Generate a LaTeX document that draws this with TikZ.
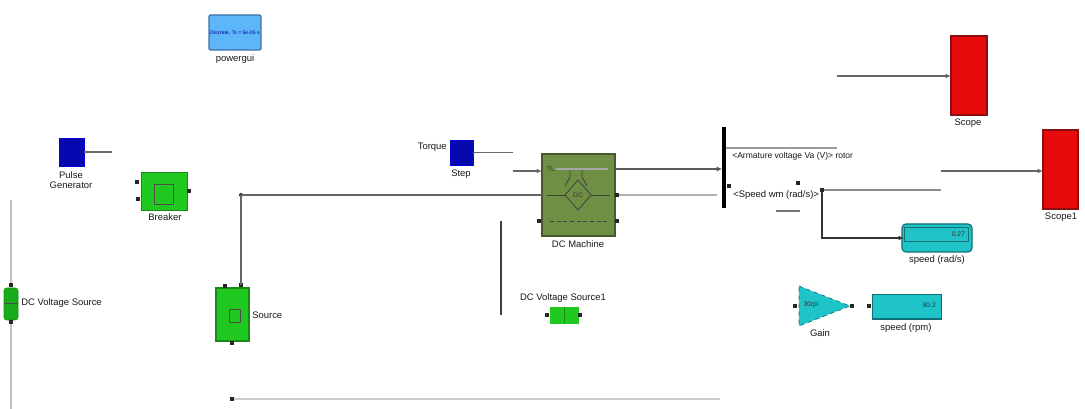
\documentclass[tikz,border=0pt]{standalone}
\usepackage{fontspec}
\setmainfont{Liberation Sans}
\usetikzlibrary{arrows.meta,calc}
\definecolor{gui}{HTML}{5CB6F8}
\definecolor{guid}{HTML}{3F6FA8}
\definecolor{navy}{HTML}{0808B0}
\definecolor{grn}{HTML}{1FC91F}
\definecolor{grnd}{HTML}{178A17}
\definecolor{olive}{HTML}{6F8F45}
\definecolor{olived}{HTML}{46592E}
\definecolor{rd}{HTML}{E80A0A}
\definecolor{rdd}{HTML}{8A1010}
\definecolor{cy}{HTML}{1FC4C8}
\definecolor{cyd}{HTML}{0F6F75}
\definecolor{wire}{HTML}{666666}
\tikzset{
 x=0.75pt,y=-0.75pt,
 lab/.style={font=\fontsize{7.1}{7.8}\selectfont,align=center,text=black!90,inner sep=0pt},
 small/.style={font=\fontsize{5}{6}\selectfont,text=black!80,inner sep=0pt},
 wr/.style={draw=wire,line width=0.9pt},
 tip/.style={-{Latex[length=4pt,width=3.5pt]}},
 port/.style={fill=black!85,draw=none,minimum size=3.5pt,inner sep=0pt,outer sep=0pt},
 pin/.style={port,minimum size=2.5pt},
 inner/.style={draw=black!70,line width=0.6pt},
 sym/.style={draw=black!75,line width=0.6pt},
}
\newcommand{\bx}[6]{% name, x0,y0,x1,y1, style
 \node[#6,inner sep=0pt,outer sep=0pt,minimum width={(#4-#2)*0.75pt},minimum height={(#5-#3)*0.75pt},anchor=north west] (#1) at (#2,#3) {};}
\begin{document}
\begin{tikzpicture}
\useasboundingbox (0,0) rectangle (1085,409);
% powergui
\bx{gui}{209}{15}{261}{50}{draw=guid,fill=gui,line width=0.9pt,rounded corners=1pt}
\node[font=\fontsize{3.8}{5}\selectfont,text=blue!60!black] (guit) at (235,33) {Discrete, Ts = 5e-05 s};
\node[lab] (guil) at (235,59) {powergui};
% pulse
\bx{pulse}{59}{138}{84}{166}{draw=blue!50!navy,fill=navy,line width=0.6pt}
\coordinate (pulsee) at (112,152);
\draw[wr] (pulse.east) -- (pulse.east -| pulsee);
\node[lab] (pulsel) at (71,180) {Pulse\\Generator};
% breaker
\bx{brk}{141}{172}{187}{210}{draw=grnd,fill=grn,line width=0.6pt}
\bx{brki}{154}{184}{173}{204}{inner}
\node[port] (brkp1) at (137,182) {};
\node[port] (brkp2) at (138,199) {};
\node[port] (brkp3) at (189,191) {};
\node[lab] (brkl) at (165,217) {Breaker};
% left source
\bx{dcs}{4}{288}{18}{320}{draw=grnd,fill=grn!85!black,line width=0.4pt,rounded corners=2pt}
\node[port] (dcst) at (11,285) {};
\node[port] (dcsb) at (11,322) {};
\coordinate (dcsa) at (11,200);
\coordinate (dcsz) at (11,409);
\draw[draw=black!25,line width=1pt] (dcsa) -- (dcst);
\draw[draw=black!25,line width=1pt] (dcsb) -- (dcsz);
\draw[inner] (4,303) -- (18,303);
\node[lab,anchor=west] (dcsl) at (21,303) {DC Voltage Source};
% source
\bx{src}{216}{288}{249}{341}{draw=grnd,fill=grn,line width=0.9pt}
\bx{srci}{229}{309}{240}{322}{inner}
\node[port] (srcp1) at (225,286) {};
\node[port] (srcp2) at (241,285) {};
\node[port] (srcp3) at (232,343) {};
\node[lab,anchor=west] (srcl) at (252,315) {Source};
\node[port,circle,minimum size=3pt] (jn) at (241,195) {};
% dc machine
\bx{dcm}{542}{154}{615}{236}{draw=olived,fill=olive,line width=0.9pt}
\draw[sym] (578,180) -- (591,195) -- (578,210) -- (565,195) -- cycle;
\draw[sym] (570,170) -- (570,177) -- (565,186) (582,170) -- (582,177) -- (587,186);
\draw[sym] (547,195) -- (565,195) (591,195) -- (610,195);
\draw[sym,dash pattern=on 3pt off 2pt] (550,221) -- (608,221);
\node[small] (dcmtl) at (551,169) {TL};
\node[small] (dcmm) at (578,195) {DC};
\node[lab] (dcml) at (578,244) {DC Machine};
\node[port] (dcmp1) at (539,221) {};
\node[port] (dcmp2) at (617,195) {};
\node[port] (dcmp3) at (617,221) {};
\draw[draw=black!35,line width=0.8pt] (556,169) -- (608,169);
% step
\bx{stp}{450}{140}{473}{165}{draw=blue!50!navy,fill=navy,line width=0.6pt}
\coordinate (stpe) at (513,152);
\draw[wr] (stp.east) -- (stp.east -| stpe);
\node[lab,anchor=east] (stpt) at (447,147) {Torque};
\node[lab] (stpl) at (461,174) {Step};
\coordinate (tla) at (513,171);
\coordinate (tlb) at (542,171);
\draw[wr,tip] (tla) -- (tlb);
% wires on y=195
\draw[wr] (jn.center) -- (542,195);
\draw[wr] (jn.center) -- (srcp2.center);
\coordinate (busw) at (717,195);
\draw[draw=black!30,line width=1pt] (dcmp2) -- (busw);
% dc source 1
\bx{dv}{550}{307}{578}{323}{draw=grn,fill=grn,line width=0.6pt}
\draw[draw=grnd,line width=0.6pt] (564,307) -- (564,323);
\node[port] (dvp1) at (547,315) {};
\node[port] (dvp2) at (580,315) {};
\node[lab] (dvl) at (563,298) {DC Voltage Source1};
\coordinate (vla) at (501,221);
\coordinate (vlb) at (501,315);
\draw[draw=black!75,line width=1.1pt] (vla) -- (vlb);
% bus
\bx{bus}{722}{127}{726}{208}{draw=none,fill=black}
\coordinate (busi) at (722,169);
\draw[draw=black!65,line width=2pt,-{Latex[length=4pt,width=4pt]}] (615,169) -- (busi);
\coordinate (o1) at (837,148);
\draw[draw=black!40,line width=0.8pt] (726,148) -- (o1);
\node[lab,anchor=west,font=\fontsize{6.4}{7}\selectfont] (t1) at (732,156) {<Armature voltage Va (V)> rotor};
\node[lab,anchor=west] (t2) at (733,195) {<Speed wm (rad/s)>};
\coordinate (s1) at (776,211);
\coordinate (s2) at (800,211);
\draw[draw=black!55,line width=0.8pt] (s1) -- (s2);
\node[port] (d1) at (798,183) {};
\node[port] (d2) at (729,186) {};
% branch
\node[pin] (br) at (822,190) {};
\coordinate (br2) at (941,190);
\draw[draw=black!45,line width=0.9pt] (br) -- (br2);
% display 1
\bx{dis}{902}{224}{972}{252}{draw=cyd,fill=cy,line width=0.9pt,rounded corners=3pt}
\bx{disi}{904}{227}{968}{241}{draw=cyd,line width=0.6pt}
\node[small,anchor=east] (dist) at (965,234) {0.27};
\node[lab] (disl) at (937,260) {speed (rad/s)};
\coordinate (dise) at (904,238);
\draw[draw=black!80,line width=1pt,tip] (br.center) |- (dise);
% gain
\coordinate (gain) at (816,306);
\path[fill=cy,draw=cyd,line width=0.5pt,dashed] (799,286) -- (850,306) -- (799,326) -- cycle;
\node[small] (gaint) at (811,305) {30/pi};
\node[lab] (gainl) at (820,333) {Gain};
\node[pin] (gaini) at (795,306) {};
\node[pin] (gaino) at (852,306) {};
% display 2
\bx{dit}{872}{294}{941}{319}{draw=cyd,fill=cy,line width=0.6pt}
\draw[draw=cyd,line width=1.1pt] (dit.south west) -- (dit.south east);
\node[small,anchor=east] (ditt) at (936,305) {80.2};
\node[lab] (ditl) at (906,328) {speed (rpm)};
\node[pin] (diti) at (869,306) {};
% scopes
\bx{sc}{951}{36}{987}{115}{draw=rdd,fill=rd,line width=0.9pt}
\node[lab] (scl) at (968,123) {Scope};
\coordinate (sci) at (837,76);
\draw[wr,tip] (sci) -- (sci -| sc.west);
\bx{sco}{1043}{130}{1078}{209}{draw=rdd,fill=rd,line width=0.9pt}
\node[lab] (scol) at (1061,217) {Scope1};
\coordinate (scoi) at (941,171);
\draw[wr,tip] (scoi) -- (scoi -| sco.west);
% bottom wire
\node[port,minimum size=3pt] (bt) at (232,399) {};
\coordinate (bte) at (720,399);
\draw[draw=black!20,line width=0.9pt] (bt) -- (bte);
\end{tikzpicture}
\end{document}
